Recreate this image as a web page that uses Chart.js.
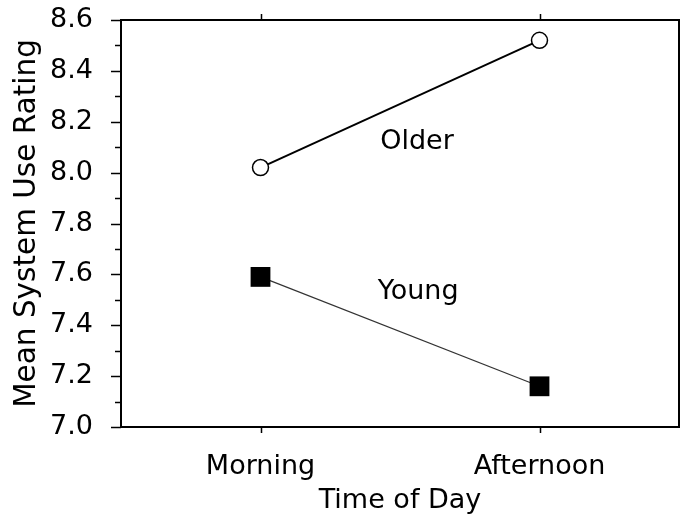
<!DOCTYPE html>
<html>
<head>
<meta charset="utf-8">
<script src="https://cdn.jsdelivr.net/npm/chart.js@4/dist/chart.umd.min.js"></script>
<style>
  html, body { margin: 0; padding: 0; background: #fff; overflow: hidden; }
  canvas { display: block; }
</style>
</head>
<body>
<canvas id="myChart" width="681" height="517"></canvas>
<script>
const categories = ['Morning', 'Afternoon']
const olderValues = [8.02, 8.52]
const youngValues = [7.59, 7.16]
const yTicks = [7.0, 7.2, 7.4, 7.6, 7.8, 8.0, 8.2, 8.4, 8.6]
// where the series names sit, in data units
const seriesLabels = ['Older', 'Young']
const labelX = [0.561, 0.565]
const labelY = [8.12, 7.53]

const FONT = '"DejaVu Sans", Arial, sans-serif'

// frame, top/right border, and tick marks (major + minor) drawn by hand
const framePlugin = {
  id: 'frame',
  afterDraw(chart) {
    const ctx = chart.ctx
    const a = chart.chartArea
    const x = chart.scales.x
    const y = chart.scales.y
    ctx.save()
    ctx.strokeStyle = '#000'
    ctx.lineWidth = 2
    ctx.strokeRect(a.left, a.top, a.right - a.left, a.bottom - a.top)
    ctx.lineWidth = 1.5
    for (let v = 70; v <= 86; v++) {
      const py = Math.round(y.getPixelForValue(v / 10)) + 0.5
      const len = v % 2 === 0 ? 10 : 6
      ctx.beginPath()
      ctx.moveTo(a.left, py)
      ctx.lineTo(a.left - len, py)
      ctx.stroke()
    }
    categories.forEach((c, i) => {
      const px = Math.round(x.getPixelForValue(i)) + 0.5
      ctx.beginPath()
      ctx.moveTo(px, a.bottom)
      ctx.lineTo(px, a.bottom + 6)
      ctx.moveTo(px, a.top)
      ctx.lineTo(px, a.top - 6)
      ctx.stroke()
    })
    ctx.fillStyle = '#000'
    ctx.font = '27px ' + FONT
    ctx.textAlign = 'center'
    ctx.textBaseline = 'middle'
    seriesLabels.forEach((s, i) => {
      ctx.fillText(s, x.getPixelForValue(labelX[i]), y.getPixelForValue(labelY[i]))
    })
    ctx.restore()
  }
}

new Chart(document.getElementById('myChart'), {
  type: 'line',
  data: {
    datasets: [
      {
        label: 'Older',
        data: olderValues.map((v, i) => ({ x: i, y: v })),
        borderColor: '#000',
        borderWidth: 2,
        pointStyle: 'circle',
        pointRadius: 8,
        pointBorderWidth: 1.5,
        pointBackgroundColor: '#fff',
        pointBorderColor: '#000'
      },
      {
        label: 'Young',
        data: youngValues.map((v, i) => ({ x: i, y: v })),
        borderColor: '#333',
        borderWidth: 1.2,
        pointStyle: 'rect',
        pointRadius: 14,
        pointBorderWidth: 0,
        pointBackgroundColor: '#000',
        pointBorderColor: '#000'
      }
    ]
  },
  options: {
    responsive: false,
    animation: false,
    devicePixelRatio: 1,
    layout: { autoPadding: false, padding: { left: 0, right: 2, top: 20, bottom: 0 } },
    plugins: {
      legend: { display: false },
      tooltip: { enabled: false }
    },
    scales: {
      x: {
        type: 'linear',
        min: -0.5,
        max: 1.5,
        afterBuildTicks(scale) {
          scale.ticks = categories.map((c, i) => ({ value: i }))
        },
        afterFit(scale) {
          scale.height = 90
          scale.paddingLeft = 0
          scale.paddingRight = 0
        },
        grid: { display: false },
        border: { display: false },
        ticks: {
          color: '#000',
          font: { size: 27, family: FONT },
          padding: 16,
          maxRotation: 0,
          callback: v => categories[v] ?? ''
        },
        title: {
          display: true,
          text: 'Time of Day',
          color: '#000',
          font: { size: 27, family: FONT },
          padding: { top: 0, bottom: 0 }
        }
      },
      y: {
        min: 7.0,
        max: 8.6,
        afterBuildTicks(scale) {
          scale.ticks = yTicks.map(v => ({ value: v }))
        },
        afterFit(scale) {
          scale.width = 121
          scale.paddingTop = 0
          scale.paddingBottom = 0
        },
        grid: { display: false },
        border: { display: false },
        ticks: {
          color: '#000',
          font: { size: 27, family: FONT },
          padding: 20,
          callback: v => v.toFixed(1)
        },
        title: {
          display: true,
          text: 'Mean System Use Rating',
          color: '#000',
          font: { size: 29.5, family: FONT },
          padding: { top: 10, bottom: 0 }
        }
      }
    }
  },
  plugins: [framePlugin]
})
</script>
</body>
</html>
